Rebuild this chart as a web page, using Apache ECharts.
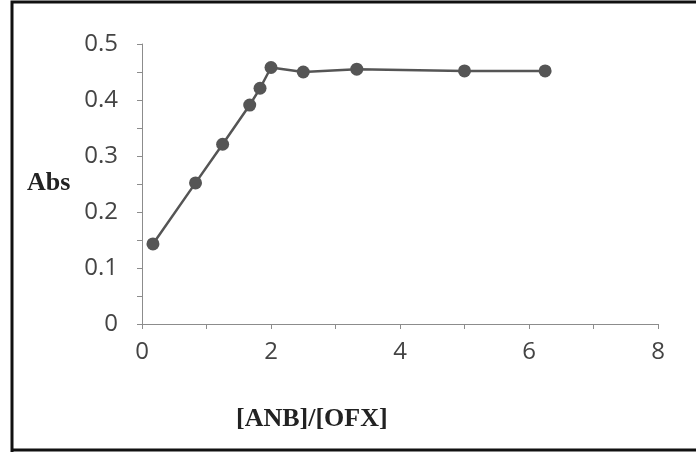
<!DOCTYPE html>
<html>
<head>
<meta charset="utf-8">
<script src="https://cdn.jsdelivr.net/npm/echarts@6/dist/echarts.min.js"></script>
<style>
html,body{margin:0;padding:0;background:#fff;}
#chart{width:696px;height:452px;}
</style>
</head>
<body>
<div id="chart"></div>
<script>
var ratio = [0.17, 0.83, 1.25, 1.67, 1.83, 2.0, 2.5, 3.33, 5.0, 6.25];
var abs = [0.143, 0.252, 0.321, 0.391, 0.421, 0.458, 0.450, 0.455, 0.452, 0.452];
var xTitle = '[ANB]/[OFX]';
var yTitle = 'Abs';

var chart = echarts.init(document.getElementById('chart'), null, {renderer: 'canvas'});
var pts = ratio.map(function (x, i) { return [x, abs[i]]; });
chart.setOption({
  animation: false,
  backgroundColor: '#fff',
  grid: {left: 142, right: 38, top: 44, bottom: 128},
  xAxis: {
    type: 'value', min: 0, max: 8, interval: 2,
    axisLine: {show: true, lineStyle: {color: '#8c8c8c', width: 1}},
    axisTick: {show: true, length: 5, lineStyle: {color: '#8c8c8c'}},
    minorTick: {show: true, splitNumber: 2, length: 5, lineStyle: {color: '#8c8c8c'}},
    splitLine: {show: false},
    axisLabel: {color: '#444', fontFamily: 'Open Sans', fontSize: 24, margin: 16}
  },
  yAxis: {
    type: 'value', min: 0, max: 0.5, interval: 0.1,
    axisLine: {show: true, lineStyle: {color: '#8c8c8c', width: 1}},
    axisTick: {show: true, length: 5, lineStyle: {color: '#8c8c8c'}},
    minorTick: {show: true, splitNumber: 2, length: 5, lineStyle: {color: '#8c8c8c'}},
    splitLine: {show: false},
    axisLabel: {color: '#444', fontFamily: 'Open Sans', fontSize: 24, margin: 24,
      formatter: function (v) { return v === 0 ? '0' : v.toFixed(1); }}
  },
  series: [{
    type: 'line',
    data: pts,
    symbol: 'circle',
    symbolSize: 13,
    lineStyle: {color: '#555', width: 2.5},
    itemStyle: {color: '#555'}
  }],
  graphic: [
    {type: 'polyline', shape: {points: [[12, 452], [12, 2], [696, 2]]}, style: {stroke: '#111', lineWidth: 3, fill: null}},
    {type: 'line', shape: {x1: 12, y1: 450, x2: 696, y2: 450}, style: {stroke: '#111', lineWidth: 3}},
    {type: 'text', left: 27, top: 170, style: {text: yTitle, font: 'bold 26px "Liberation Serif"', fill: '#222'}},
    {type: 'text', left: 236, top: 406, style: {text: xTitle, font: 'bold 26px "Liberation Serif"', fill: '#222'}}
  ]
});
</script>
</body>
</html>
